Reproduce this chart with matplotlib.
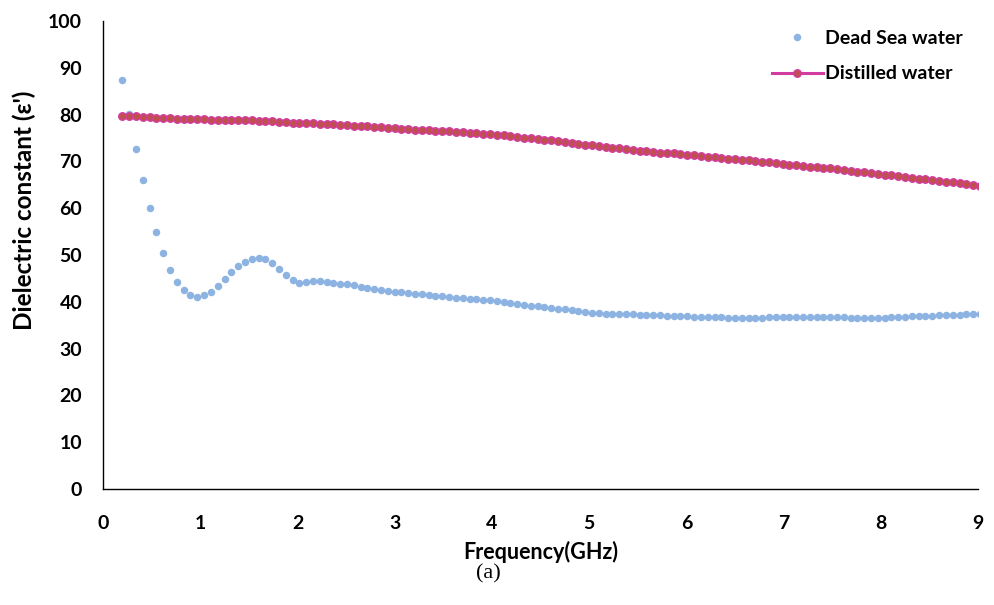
import numpy as np
import matplotlib
matplotlib.use('Agg')
import matplotlib.pyplot as plt

# frequency grid of the sweep (GHz), 0.07 GHz step, last point falls just past 9
freq = np.arange(127) * 0.07 + 0.2

dead_sea = [87.4, 80.2, 72.7, 66.0, 60.1, 54.9, 50.5, 46.9, 44.2, 42.5,
            41.5, 41.1, 41.4, 42.2, 43.4, 44.9, 46.4, 47.6, 48.6, 49.2,
            49.4, 49.1, 48.2, 47.1, 45.7, 44.6, 44.1, 44.3, 44.5, 44.5,
            44.3, 44.1, 43.9, 43.7, 43.5, 43.2, 43.0, 42.8, 42.6, 42.4,
            42.2, 42.0, 41.9, 41.7, 41.6, 41.4, 41.3, 41.2, 41.0, 40.9,
            40.8, 40.7, 40.6, 40.4, 40.3, 40.1, 39.9, 39.7, 39.6, 39.4,
            39.2, 39.1, 38.9, 38.7, 38.5, 38.4, 38.2, 38.0, 37.9, 37.7,
            37.6, 37.5, 37.5, 37.4, 37.3, 37.3, 37.2, 37.2, 37.1, 37.1,
            37.0, 37.0, 37.0, 36.9, 36.8, 36.8, 36.8, 36.7, 36.7, 36.6,
            36.6, 36.5, 36.5, 36.6, 36.6, 36.7, 36.7, 36.7, 36.8, 36.8,
            36.8, 36.8, 36.7, 36.7, 36.7, 36.7, 36.7, 36.6, 36.6, 36.6,
            36.6, 36.6, 36.6, 36.7, 36.7, 36.8, 36.9, 36.9, 37.0, 37.0,
            37.1, 37.1, 37.2, 37.2, 37.3, 37.4, 37.4]

distilled = [79.8, 79.7, 79.6, 79.5, 79.4, 79.3, 79.2, 79.2, 79.1, 79.1,
             79.0, 79.0, 79.0, 78.9, 78.9, 78.9, 78.9, 78.8, 78.8, 78.8,
             78.7, 78.7, 78.6, 78.5, 78.4, 78.3, 78.2, 78.1, 78.1, 78.0,
             77.9, 77.9, 77.8, 77.7, 77.6, 77.6, 77.5, 77.4, 77.3, 77.2,
             77.1, 77.0, 76.9, 76.8, 76.7, 76.7, 76.6, 76.5, 76.4, 76.3,
             76.2, 76.1, 76.0, 75.9, 75.8, 75.7, 75.6, 75.5, 75.3, 75.1,
             74.9, 74.8, 74.6, 74.5, 74.3, 74.1, 74.0, 73.8, 73.6, 73.5,
             73.3, 73.1, 72.9, 72.8, 72.6, 72.5, 72.3, 72.2, 72.1, 71.9,
             71.8, 71.7, 71.6, 71.4, 71.3, 71.2, 71.0, 70.9, 70.8, 70.6,
             70.5, 70.4, 70.2, 70.1, 69.9, 69.8, 69.6, 69.5, 69.3, 69.2,
             69.0, 68.9, 68.7, 68.6, 68.5, 68.3, 68.2, 68.0, 67.8, 67.7,
             67.5, 67.3, 67.1, 67.0, 66.8, 66.6, 66.5, 66.3, 66.2, 66.0,
             65.9, 65.7, 65.6, 65.4, 65.2, 65.0, 64.8]

xticks = list(range(0, 10))
yticks = list(range(0, 101, 10))

plt.rcParams['font.family'] = ['Lato', 'DejaVu Sans']

fig = plt.figure(figsize=(9.95, 6.05), dpi=100)
ax = fig.add_axes([0.1035, 0.1917, 0.8794, 0.7736])

ax.plot(freq, dead_sea, 'o', color='#8db3e2', markersize=5.4, markeredgewidth=0,
        label='Dead Sea water', zorder=2)
ax.plot(freq, distilled, '-', color='#d23ca0', lw=2.2, marker='o', markersize=5.4,
        markerfacecolor='#c0504d', markeredgecolor='#d23ca0', markeredgewidth=1.0,
        label='Distilled water', zorder=3)

ax.set_xlim(0, 9)
ax.set_ylim(0, 100)
ax.set_xticks(xticks)
ax.set_yticks(yticks)
ax.tick_params(length=0, labelsize=14)
ax.tick_params(axis='y', pad=15)
ax.tick_params(axis='x', pad=19)
for lab in ax.get_xticklabels() + ax.get_yticklabels():
    lab.set_fontweight('bold')

for s in ['top', 'right']:
    ax.spines[s].set_visible(False)
for s in ['left', 'bottom']:
    ax.spines[s].set_color('black')
    ax.spines[s].set_linewidth(1.0)

ax.set_xlabel('Frequency(GHz)', fontsize=15.5, fontweight='bold', labelpad=6)
ax.set_ylabel("Dielectric constant (ε')", fontsize=17.5, fontweight='bold')
ax.yaxis.set_label_coords((36 - 103) / 875, (489 - 210) / 468)

leg = fig.legend(loc='upper left', bbox_to_anchor=(772 / 995, 1 - 30 / 605),
                 frameon=False, prop={'weight': 'bold', 'size': 14},
                 handlelength=2.6, handletextpad=0.12, labelspacing=0.95,
                 borderpad=0, borderaxespad=0)

fig.text(488 / 995, 1 - 574 / 605, '(a)', ha='center', va='center',
         fontsize=16, family='Liberation Serif')

fig.savefig('out.png', dpi=100)
